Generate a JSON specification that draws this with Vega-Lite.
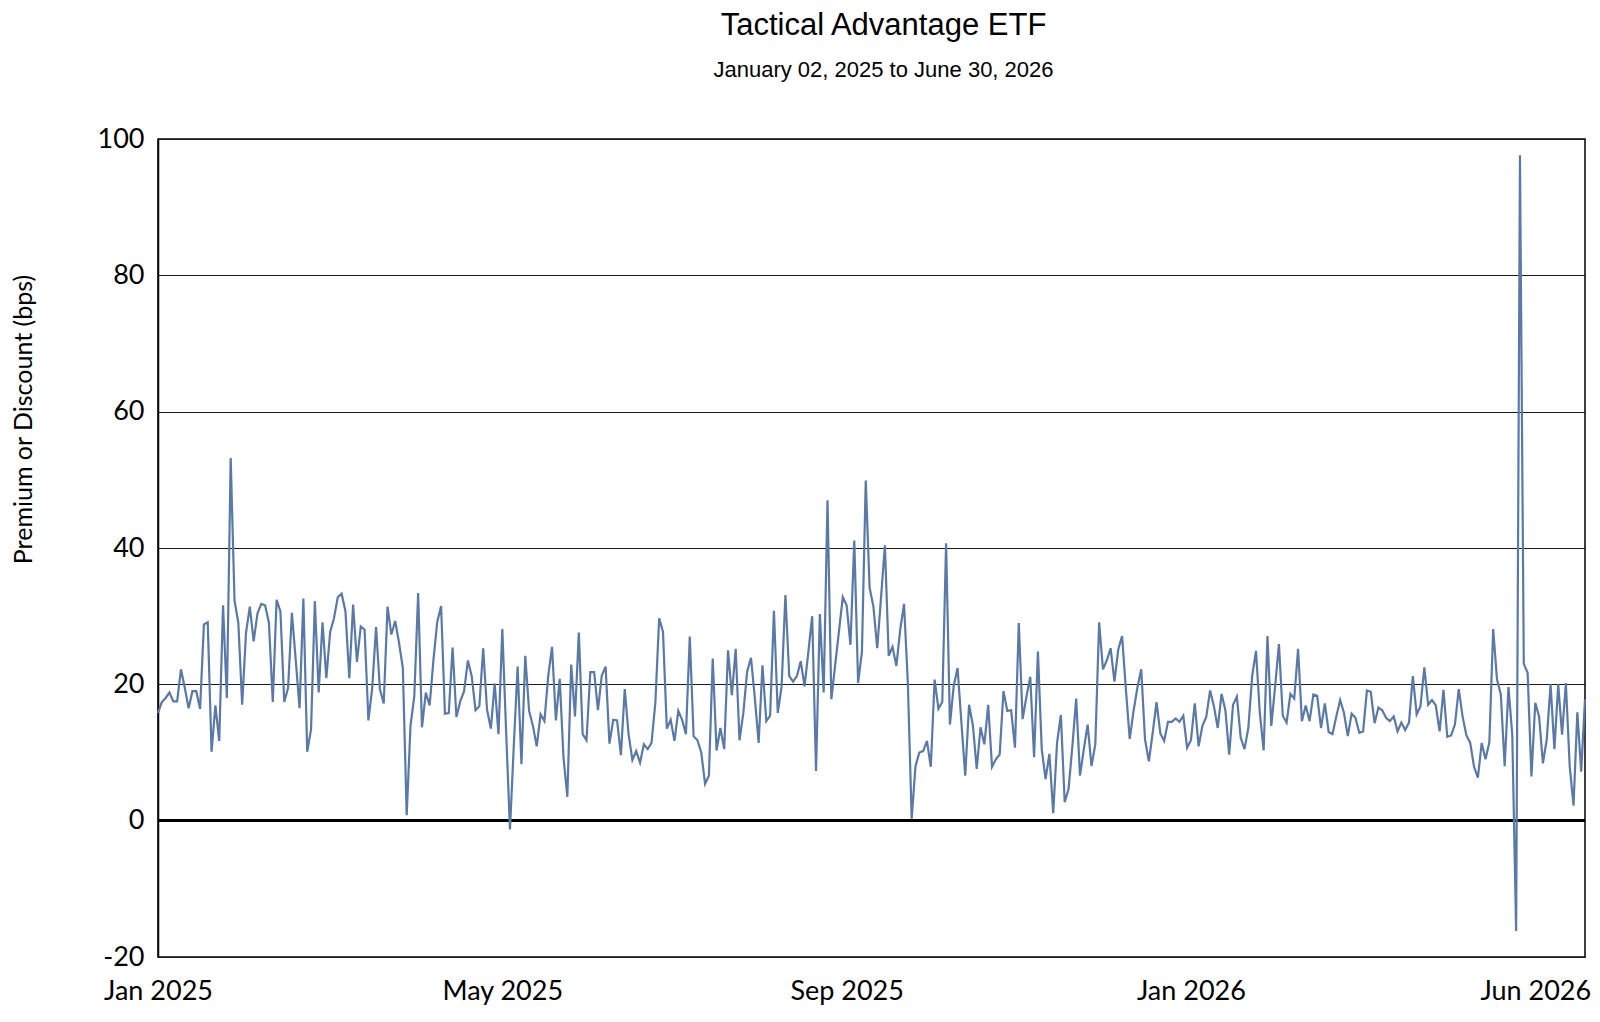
{
  "$schema": "https://vega.github.io/schema/vega-lite/v6.json",
  "width": 1427,
  "height": 818,
  "autosize": "none",
  "padding": {"left": 158, "top": 139, "right": 15, "bottom": 65},
  "background": "white",
  "title": {
    "text": "Tactical Advantage ETF",
    "subtitle": "January 02, 2025 to June 30, 2026",
    "font": "Liberation Sans",
    "fontSize": 31,
    "fontWeight": "normal",
    "color": "black",
    "subtitleFont": "Liberation Sans",
    "subtitleFontSize": 22,
    "subtitleColor": "black",
    "subtitlePadding": 18,
    "anchor": "middle",
    "dx": 12,
    "offset": 43
  },
  "config": {
    "view": {"stroke": "black", "strokeWidth": 1.5}
  },
  "data": {
    "values": [
      {"day":0,"bps":15.8},{"day":1,"bps":17.4},{"day":2,"bps":18.0},{"day":3,"bps":18.8},{"day":4,"bps":17.5},{"day":5,"bps":17.5},{"day":6,"bps":22.2},{"day":7,"bps":19.5},{"day":8,"bps":16.5},{"day":9,"bps":19.0},
      {"day":10,"bps":19.0},{"day":11,"bps":16.4},{"day":12,"bps":28.8},{"day":13,"bps":29.1},{"day":14,"bps":10.1},{"day":15,"bps":16.9},{"day":16,"bps":11.7},{"day":17,"bps":31.6},{"day":18,"bps":18.0},{"day":19,"bps":53.2},
      {"day":20,"bps":32.3},{"day":21,"bps":29.0},{"day":22,"bps":17.0},{"day":23,"bps":27.5},{"day":24,"bps":31.4},{"day":25,"bps":26.3},{"day":26,"bps":30.4},{"day":27,"bps":31.8},{"day":28,"bps":31.6},{"day":29,"bps":29.0},
      {"day":30,"bps":17.4},{"day":31,"bps":32.4},{"day":32,"bps":30.7},{"day":33,"bps":17.4},{"day":34,"bps":19.5},{"day":35,"bps":30.5},
      {"day":36,"bps":23.6},{"day":37,"bps":16.5},{"day":38,"bps":32.6},{"day":39,"bps":10.1},{"day":40,"bps":13.4},{"day":41,"bps":32.2},{"day":42,"bps":18.8},{"day":43,"bps":29.1},{"day":44,"bps":20.9},{"day":45,"bps":27.7},
      {"day":46,"bps":29.7},{"day":47,"bps":32.8},{"day":48,"bps":33.3},{"day":49,"bps":30.7},{"day":50,"bps":20.9},{"day":51,"bps":31.7},{"day":52,"bps":23.3},{"day":53,"bps":28.5},{"day":54,"bps":28.0},{"day":55,"bps":14.7},
      {"day":56,"bps":19.5},{"day":57,"bps":28.4},{"day":58,"bps":19.3},{"day":59,"bps":17.2},{"day":60,"bps":31.4},{"day":61,"bps":27.3},{"day":62,"bps":29.3},{"day":63,"bps":26.1},{"day":64,"bps":22.4},{"day":65,"bps":0.8},
      {"day":66,"bps":13.9},{"day":67,"bps":18.3},{"day":68,"bps":33.4},{"day":69,"bps":13.7},{"day":70,"bps":18.8},{"day":71,"bps":16.9},
      {"day":72,"bps":23.6},{"day":73,"bps":29.2},{"day":74,"bps":31.5},{"day":75,"bps":15.7},{"day":76,"bps":15.8},{"day":77,"bps":25.4},{"day":78,"bps":15.2},{"day":79,"bps":17.5},{"day":80,"bps":19.0},{"day":81,"bps":23.5},
      {"day":82,"bps":21.2},{"day":83,"bps":16.2},{"day":84,"bps":16.8},{"day":85,"bps":25.3},{"day":86,"bps":16.3},{"day":87,"bps":13.5},{"day":88,"bps":20.1},{"day":89,"bps":12.7},{"day":90,"bps":28.1},{"day":91,"bps":13.0},
      {"day":92,"bps":-1.3},{"day":93,"bps":11.0},{"day":94,"bps":22.6},{"day":95,"bps":8.3},{"day":96,"bps":24.2},{"day":97,"bps":16.1},{"day":98,"bps":13.9},{"day":99,"bps":10.9},{"day":100,"bps":15.6},{"day":101,"bps":14.6},
      {"day":102,"bps":21.2},{"day":103,"bps":25.5},{"day":104,"bps":14.7},{"day":105,"bps":20.8},{"day":106,"bps":9.2},{"day":107,"bps":3.5},{"day":108,"bps":22.9},
      {"day":109,"bps":15.3},{"day":110,"bps":27.6},{"day":111,"bps":12.7},{"day":112,"bps":11.8},{"day":113,"bps":21.8},{"day":114,"bps":21.8},{"day":115,"bps":16.2},{"day":116,"bps":21.3},{"day":117,"bps":22.6},{"day":118,"bps":11.3},
      {"day":119,"bps":14.8},{"day":120,"bps":14.7},{"day":121,"bps":9.6},{"day":122,"bps":19.3},{"day":123,"bps":12.7},{"day":124,"bps":8.9},{"day":125,"bps":10.2},{"day":126,"bps":8.5},{"day":127,"bps":11.2},{"day":128,"bps":10.5},
      {"day":129,"bps":11.4},{"day":130,"bps":17.3},{"day":131,"bps":29.7},{"day":132,"bps":27.7},{"day":133,"bps":13.5},{"day":134,"bps":14.8},{"day":135,"bps":11.7},{"day":136,"bps":16.1},{"day":137,"bps":14.8},{"day":138,"bps":12.7},
      {"day":139,"bps":27.0},{"day":140,"bps":12.4},{"day":141,"bps":11.8},{"day":142,"bps":10.0},{"day":143,"bps":5.4},{"day":144,"bps":6.6},{"day":145,"bps":23.8},
      {"day":146,"bps":10.3},{"day":147,"bps":13.6},{"day":148,"bps":10.5},{"day":149,"bps":25.0},{"day":150,"bps":18.4},{"day":151,"bps":25.2},{"day":152,"bps":11.8},{"day":153,"bps":15.8},{"day":154,"bps":21.9},{"day":155,"bps":23.9},
      {"day":156,"bps":18.0},{"day":157,"bps":11.4},{"day":158,"bps":22.8},{"day":159,"bps":14.6},{"day":160,"bps":15.4},{"day":161,"bps":30.8},{"day":162,"bps":15.8},{"day":163,"bps":19.7},{"day":164,"bps":33.1},{"day":165,"bps":21.2},
      {"day":166,"bps":20.4},{"day":167,"bps":21.2},{"day":168,"bps":23.4},{"day":169,"bps":19.7},{"day":170,"bps":24.8},{"day":171,"bps":30.0},{"day":172,"bps":7.3},{"day":173,"bps":30.3},{"day":174,"bps":18.8},{"day":175,"bps":47.0},
      {"day":176,"bps":17.8},{"day":177,"bps":22.8},{"day":178,"bps":27.8},{"day":179,"bps":32.8},{"day":180,"bps":31.6},{"day":181,"bps":25.8},{"day":182,"bps":41.1},
      {"day":183,"bps":20.2},{"day":184,"bps":24.8},{"day":185,"bps":49.9},{"day":186,"bps":34.2},{"day":187,"bps":31.4},{"day":188,"bps":25.3},{"day":189,"bps":32.8},{"day":190,"bps":40.4},{"day":191,"bps":24.2},{"day":192,"bps":25.5},
      {"day":193,"bps":22.7},{"day":194,"bps":28.0},{"day":195,"bps":31.8},{"day":196,"bps":20.2},{"day":197,"bps":0.3},{"day":198,"bps":8.0},{"day":199,"bps":10.0},{"day":200,"bps":10.2},{"day":201,"bps":11.7},{"day":202,"bps":7.9},
      {"day":203,"bps":20.7},{"day":204,"bps":16.4},{"day":205,"bps":17.4},{"day":206,"bps":40.7},{"day":207,"bps":14.1},{"day":208,"bps":19.8},{"day":209,"bps":22.4},{"day":210,"bps":14.4},{"day":211,"bps":6.6},{"day":212,"bps":17.0},
      {"day":213,"bps":14.0},{"day":214,"bps":7.6},{"day":215,"bps":13.7},{"day":216,"bps":11.2},{"day":217,"bps":17.0},{"day":218,"bps":7.9},
      {"day":219,"bps":9.0},{"day":220,"bps":9.7},{"day":221,"bps":19.0},{"day":222,"bps":16.1},{"day":223,"bps":16.2},{"day":224,"bps":10.7},{"day":225,"bps":29.0},{"day":226,"bps":14.9},{"day":227,"bps":18.2},{"day":228,"bps":21.1},
      {"day":229,"bps":9.3},{"day":230,"bps":24.8},{"day":231,"bps":10.5},{"day":232,"bps":6.1},{"day":233,"bps":9.8},{"day":234,"bps":1.1},{"day":235,"bps":11.4},{"day":236,"bps":15.5},{"day":237,"bps":2.7},{"day":238,"bps":4.6},
      {"day":239,"bps":10.9},{"day":240,"bps":17.9},{"day":241,"bps":6.6},{"day":242,"bps":10.5},{"day":243,"bps":14.1},{"day":244,"bps":8.0},{"day":245,"bps":11.2},{"day":246,"bps":29.1},{"day":247,"bps":22.2},{"day":248,"bps":23.5},
      {"day":249,"bps":25.3},{"day":250,"bps":20.4},{"day":251,"bps":25.1},{"day":252,"bps":27.1},{"day":253,"bps":19.2},{"day":254,"bps":12.0},{"day":255,"bps":16.1},
      {"day":256,"bps":19.5},{"day":257,"bps":22.2},{"day":258,"bps":11.9},{"day":259,"bps":8.7},{"day":260,"bps":12.9},{"day":261,"bps":17.4},{"day":262,"bps":12.8},{"day":263,"bps":11.7},{"day":264,"bps":14.5},{"day":265,"bps":14.5},
      {"day":266,"bps":15.0},{"day":267,"bps":14.5},{"day":268,"bps":15.4},{"day":269,"bps":10.7},{"day":270,"bps":11.8},{"day":271,"bps":17.2},{"day":272,"bps":10.9},{"day":273,"bps":13.9},{"day":274,"bps":15.2},{"day":275,"bps":19.1},
      {"day":276,"bps":16.8},{"day":277,"bps":13.6},{"day":278,"bps":18.6},{"day":279,"bps":16.2},{"day":280,"bps":9.7},{"day":281,"bps":17.0},{"day":282,"bps":18.2},{"day":283,"bps":12.2},{"day":284,"bps":10.5},{"day":285,"bps":13.6},
      {"day":286,"bps":21.2},{"day":287,"bps":24.9},{"day":288,"bps":15.8},{"day":289,"bps":10.3},{"day":290,"bps":27.1},{"day":291,"bps":13.9},
      {"day":292,"bps":19.7},{"day":293,"bps":25.9},{"day":294,"bps":15.4},{"day":295,"bps":14.4},{"day":296,"bps":18.6},{"day":297,"bps":17.9},{"day":298,"bps":25.2},{"day":299,"bps":14.6},{"day":300,"bps":16.9},{"day":301,"bps":14.6},
      {"day":302,"bps":18.5},{"day":303,"bps":18.3},{"day":304,"bps":13.6},{"day":305,"bps":17.2},{"day":306,"bps":13.0},{"day":307,"bps":12.7},{"day":308,"bps":15.3},{"day":309,"bps":17.7},{"day":310,"bps":15.8},{"day":311,"bps":12.4},
      {"day":312,"bps":15.7},{"day":313,"bps":15.1},{"day":314,"bps":12.9},{"day":315,"bps":13.1},{"day":316,"bps":19.1},{"day":317,"bps":18.9},{"day":318,"bps":14.3},{"day":319,"bps":16.6},{"day":320,"bps":16.2},{"day":321,"bps":15.1},
      {"day":322,"bps":14.6},{"day":323,"bps":15.3},{"day":324,"bps":13.1},{"day":325,"bps":14.4},{"day":326,"bps":13.3},{"day":327,"bps":14.4},{"day":328,"bps":21.2},
      {"day":329,"bps":15.6},{"day":330,"bps":16.8},{"day":331,"bps":22.5},{"day":332,"bps":17.0},{"day":333,"bps":17.7},{"day":334,"bps":16.9},{"day":335,"bps":13.1},{"day":336,"bps":19.2},{"day":337,"bps":12.3},{"day":338,"bps":12.5},
      {"day":339,"bps":14.1},{"day":340,"bps":19.3},{"day":341,"bps":15.3},{"day":342,"bps":12.5},{"day":343,"bps":11.4},{"day":344,"bps":7.9},{"day":345,"bps":6.3},{"day":346,"bps":11.4},{"day":347,"bps":9.0},{"day":348,"bps":11.5},
      {"day":349,"bps":28.1},{"day":350,"bps":20.7},{"day":351,"bps":18.5},{"day":352,"bps":8.0},{"day":353,"bps":19.6},{"day":354,"bps":12.5},{"day":355,"bps":-16.2},{"day":356,"bps":97.6},{"day":357,"bps":23.0},{"day":358,"bps":21.7},
      {"day":359,"bps":6.5},{"day":360,"bps":17.3},{"day":361,"bps":15.3},{"day":362,"bps":8.4},{"day":363,"bps":11.9},{"day":364,"bps":20.0},{"day":365,"bps":10.5},{"day":366,"bps":20.0},{"day":367,"bps":12.6},{"day":368,"bps":20.2},
      {"day":369,"bps":8.0},{"day":370,"bps":2.2},{"day":371,"bps":15.9},{"day":372,"bps":7.2},{"day":373,"bps":17.8}
    ]
  },
  "encoding": {
    "x": {
      "field": "day",
      "type": "quantitative",
      "scale": {"domain": [0, 373], "nice": false, "zero": false},
      "axis": {
        "title": null,
        "values": [0, 90, 180, 270, 360],
        "labelExpr": "datum.value == 0 ? 'Jan 2025' : datum.value == 90 ? 'May 2025' : datum.value == 180 ? 'Sep 2025' : datum.value == 270 ? 'Jan 2026' : 'Jun 2026'",
        "labelFont": "Lato",
        "labelFontSize": 27,
        "labelColor": "black",
        "labelPadding": 21,
        "labelFlush": false,
        "labelOverlap": false,
        "labelBound": false,
        "ticks": false,
        "domain": false,
        "grid": false
      }
    },
    "y": {
      "field": "bps",
      "type": "quantitative",
      "scale": {"domain": [-20, 100], "nice": false},
      "axis": {
        "title": "Premium or Discount (bps)",
        "titleFont": "Lato",
        "titleFontSize": 25,
        "titleFontWeight": "normal",
        "titleColor": "black",
        "titleX": -135,
        "titleY": 280,
        "titleAngle": -90,
        "titleAlign": "center",
        "titleBaseline": "middle",
        "values": [-20, 0, 20, 40, 60, 80, 100],
        "labelExpr": "toString(datum.value)",
        "labelFont": "Lato",
        "labelFontSize": 27,
        "labelColor": "black",
        "labelPadding": 14,
        "ticks": false,
        "domain": true,
        "domainColor": "black",
        "domainWidth": 1.5,
        "grid": true,
        "gridColor": "#1a1a1a",
        "gridWidth": 1.2
      }
    }
  },
  "layer": [
    {
      "mark": {"type": "rule", "color": "black", "strokeWidth": 2.5},
      "encoding": {"x": null, "y": {"datum": 0}}
    },
    {
      "mark": {"type": "line", "color": "#5a79a6", "strokeWidth": 2.2, "interpolate": "linear"}
    }
  ]
}
